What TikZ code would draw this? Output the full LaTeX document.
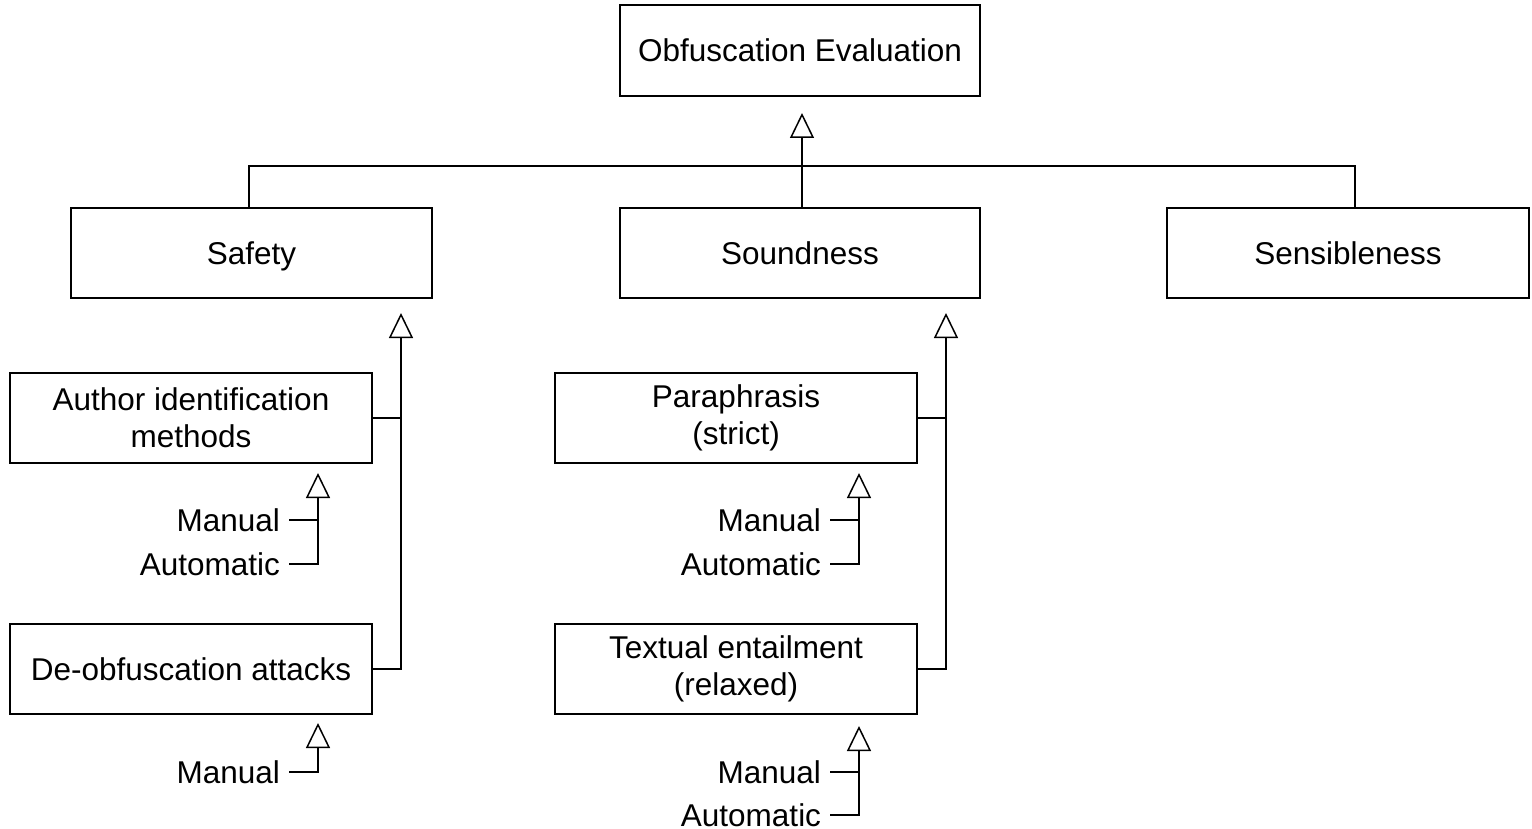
\documentclass[tikz,border=0pt]{standalone}
\usepackage{fontspec}
\setmainfont{Liberation Sans}
\usetikzlibrary{arrows.meta}
\begin{document}
\begin{tikzpicture}[x=1pt,y=-1pt,
  box/.style={draw, line width=1.5pt, inner sep=0pt, align=center,
    font=\fontsize{31.5}{37}\selectfont},
  oneline/.style={text height=22.5pt, text depth=0pt},
  lab/.style={inner ysep=0pt, inner xsep=9pt, outer sep=0pt, anchor=east,
    text height=22.5pt, text depth=0pt,
    font=\fontsize{31.5}{37}\selectfont},
  conn/.style={line width=1.5pt},
  inh/.style={conn, -{Triangle[open, width=24pt, length=25pt]}}]
\useasboundingbox (0,0) rectangle (1532,829);
% boxes
\node[box, oneline, minimum width=360pt, minimum height=91pt] (top) at (800,50.5) {Obfuscation Evaluation};
\node[box, oneline, minimum width=361pt, minimum height=90pt] (safety) at (251.5,253) {Safety};
\node[box, oneline, minimum width=360pt, minimum height=90pt] (sound) at (800,253) {Soundness};
\node[box, oneline, minimum width=362pt, minimum height=90pt] (sens) at (1348,253) {Sensibleness};
\node[box, minimum width=362pt, minimum height=90pt] (author) at (191,418) {Author identification\\methods};
\node[box, oneline, minimum width=362pt, minimum height=90pt] (deobf) at (191,669) {De-obfuscation attacks};
\node[box, minimum width=362pt, minimum height=90pt] (para) at (736,418) {Paraphrasis\\(strict)};
\node[box, minimum width=362pt, minimum height=90pt] (te) at (736,669) {Textual entailment\\(relaxed)};
% labels
\node[lab] (am) at (289,520) {Manual};
\node[lab] (aa) at (289,564) {Automatic};
\node[lab] (dm) at (289,772) {Manual};
\node[lab] (pm) at (830,520) {Manual};
\node[lab] (pa) at (830,564) {Automatic};
\node[lab] (tm) at (830,772) {Manual};
\node[lab] (ta) at (830,815) {Automatic};
% coordinates
\coordinate (hl) at (249,166);
\coordinate (hr) at (1355,166);
\coordinate (tt) at (802,96);
\coordinate (st) at (401,298);
\coordinate (ot) at (946,298);
\coordinate (a1) at (318,463);
\coordinate (d1) at (318,714);
\coordinate (p1) at (859,463);
\coordinate (t1) at (859,714);
% top level
\draw[inh, shorten >=17pt] (sound.north -| tt) -- (tt);
\draw[conn] (safety.north -| hl) -- (hl) -- (hr) -- (sens.north -| hr);
% safety
\draw[inh, shorten >=15pt] (deobf.east) -| (st);
\draw[conn] (author.east) -- (author.east -| st);
\draw[inh, shorten >=10pt] (aa.east) -| (a1);
\draw[conn] (am.east) -- (am.east -| a1);
\draw[inh, shorten >=9pt] (dm.east) -| (d1);
% soundness
\draw[inh, shorten >=15pt] (te.east) -| (ot);
\draw[conn] (para.east) -- (para.east -| ot);
\draw[inh, shorten >=10pt] (pa.east) -| (p1);
\draw[conn] (pm.east) -- (pm.east -| p1);
\draw[inh, shorten >=12pt] (ta.east) -| (t1);
\draw[conn] (tm.east) -- (tm.east -| t1);
\end{tikzpicture}
\end{document}
